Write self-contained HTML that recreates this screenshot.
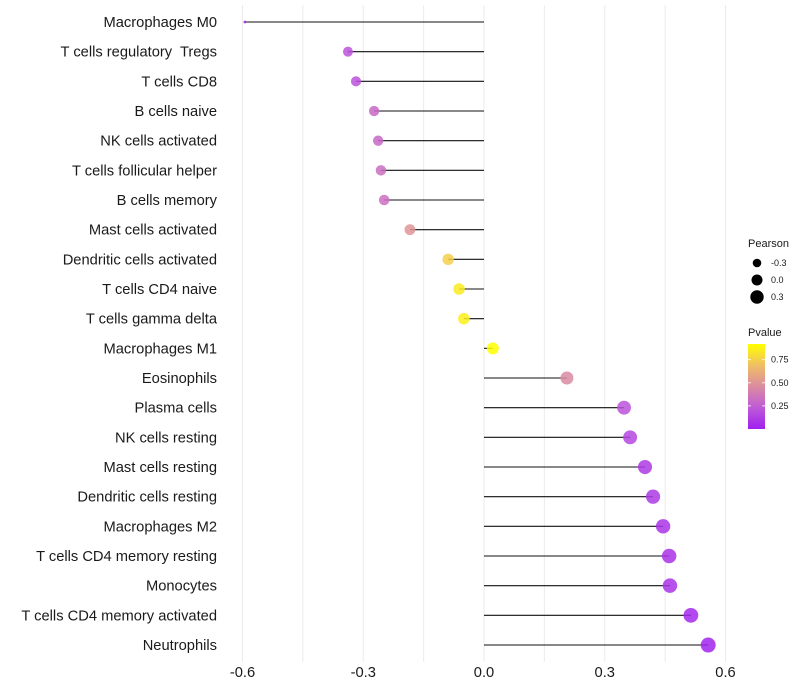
<!DOCTYPE html>
<html><head><meta charset="utf-8"><style>
body{margin:0;background:#fff;}
svg{display:block;font-family:"Liberation Sans",sans-serif;}
text{white-space:pre;}
</style></head><body>
<svg id="chart" width="800" height="700"></svg>
<script>
const categories=["Macrophages M0","T cells regulatory  Tregs","T cells CD8","B cells naive","NK cells activated","T cells follicular helper","B cells memory","Mast cells activated","Dendritic cells activated","T cells CD4 naive","T cells gamma delta","Macrophages M1","Eosinophils","Plasma cells","NK cells resting","Mast cells resting","Dendritic cells resting","Macrophages M2","T cells CD4 memory resting","Monocytes","T cells CD4 memory activated","Neutrophils"];
const pearson=[-0.594,-0.338,-0.318,-0.273,-0.263,-0.256,-0.248,-0.184,-0.089,-0.062,-0.050,0.022,0.206,0.348,0.363,0.400,0.420,0.445,0.460,0.462,0.514,0.557];
const pvalues=[0.02,0.2,0.2,0.3,0.3,0.32,0.33,0.5,0.75,0.85,0.86,0.92,0.45,0.2,0.15,0.1,0.1,0.08,0.07,0.07,0.03,0.01];
const xTicks=[-0.6,-0.3,0.0,0.3,0.6];
const xTickLabels=["-0.6","-0.3","0.0","0.3","0.6"];
const sizeLegend=[-0.3,0.0,0.3];
const colorLegend=[0.25,0.50,0.75];

const NS="http://www.w3.org/2000/svg";
const svg=document.getElementById('chart');
function mk(t,a,p){const e=document.createElementNS(NS,t);for(const k in a)e.setAttribute(k,a[k]);(p||svg).appendChild(e);return e;}
const x=v=>484+v*402.5;
const y=i=>22+i*29.667;
const r=v=>v>=-0.338?5+(v+0.338)*2.8:Math.max(1.4,5+(v+0.338)*14);
const rl=v=>5.5+v*4;
const pmax=0.92;
const stops=[[0,[160,32,240]],[0.25,[190,90,215]],[0.5,[218,140,160]],[0.75,[240,190,100]],[1,[255,255,0]]];
function col(p){let t=Math.min(1,Math.max(0,p/pmax));for(let i=1;i<stops.length;i++){if(t<=stops[i][0]){const a=stops[i-1],b=stops[i];const f=(t-a[0])/(b[0]-a[0]);const c=a[1].map((v,j)=>Math.round(v+(b[1][j]-v)*f));return 'rgb('+c.join(',')+')';}}return 'rgb(255,255,0)';}

// gridlines
const grid=mk('g',{});


for(let v=-0.6;v<=0.61;v+=0.15){mk('line',{x1:x(v),x2:x(v),y1:5,y2:662,stroke:'#ebebeb','stroke-width':1},grid);}

// rows
categories.forEach((c,i)=>{
  const g=mk('g',{});
  
  
  const t=mk('text',{x:217,y:y(i)+5,'text-anchor':'end','font-size':14.7,fill:'#1a1a1a'},g);
  t.textContent=c;
  
  
  const l=mk('line',{x1:x(0),x2:x(pearson[i]),y1:y(i),y2:y(i),stroke:'#111','stroke-width':1.1},g);
  
  
  const d=mk('circle',{cx:x(pearson[i]),cy:y(i),r:r(pearson[i]),fill:col(pvalues[i]),'fill-opacity':0.85},g);
  
  
});

// x ticks
xTicks.forEach((v,i)=>{
  const t=mk('text',{x:x(v),y:677,'text-anchor':'middle','font-size':14.7,fill:'#1a1a1a'});
  t.textContent=xTickLabels[i];
  
  
});

// size legend
const sl=mk('g',{});


const st=mk('text',{x:748,y:247,'font-size':11,fill:'#1a1a1a'},sl);st.textContent='Pearson';
sizeLegend.forEach((v,i)=>{
  const cy=263+i*17;
  const c=mk('circle',{cx:757,cy:cy,r:rl(v),fill:'#000'},sl);
  
  
  const t=mk('text',{x:771,y:cy+3,'font-size':9,fill:'#1a1a1a'},sl);t.textContent=v.toFixed(1);
});

// color legend
const cl=mk('g',{});


const ct=mk('text',{x:748,y:336,'font-size':11,fill:'#1a1a1a'},cl);ct.textContent='Pvalue';
const defs=mk('defs',{});
const lg=mk('linearGradient',{id:'pg',x1:0,y1:1,x2:0,y2:0},defs);
stops.forEach(s=>mk('stop',{offset:s[0],'stop-color':'rgb('+s[1].join(',')+')'},lg));
const barTop=344,barBot=429;
const bar=mk('rect',{x:748,y:barTop,width:17,height:barBot-barTop,fill:'url(#pg)'},cl);


colorLegend.forEach(v=>{
  const yy=barBot-(v/pmax)*(barBot-barTop);
  mk('line',{x1:748,x2:751,y1:yy,y2:yy,stroke:'#fff','stroke-width':0.8},cl);
  mk('line',{x1:762,x2:765,y1:yy,y2:yy,stroke:'#fff','stroke-width':0.8},cl);
  const t=mk('text',{x:771,y:yy+3,'font-size':9,fill:'#1a1a1a'},cl);t.textContent=v.toFixed(2);
});
</script>
</body></html>
